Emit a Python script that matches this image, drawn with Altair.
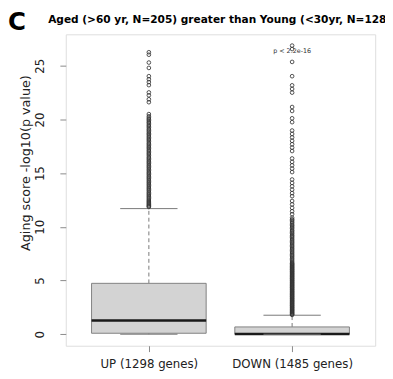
import altair as alt
import pandas as pd

# ---- data ----
categories = ["UP (1298 genes)", "DOWN (1485 genes)"]
lower_whisker = [0.0, 0.0]
q1 = [0.09, 0.0]
median = [1.28, 0.03]
q3 = [4.74, 0.68]
upper_whisker = [11.70, 1.77]

up_outliers = [
    26.26, 26.03, 25.3, 24.8, 24.03, 23.75, 23.48, 23.2, 22.52, 22.25, 21.88, 21.61, 20.5,
    20.3, 20.15, 20.02, 19.9, 19.76, 19.65, 19.5, 19.38, 19.25, 19.1, 18.98, 18.85, 18.7,
    18.6, 18.46, 18.33, 18.2, 18.08, 17.95, 17.8, 17.68, 17.55, 17.42, 17.3, 17.16, 17.04,
    16.9, 16.78, 16.65, 16.5, 16.38, 16.26, 16.12, 16.0, 15.88, 15.74, 15.62, 15.5, 15.36,
    15.24, 15.1, 14.98, 14.86, 14.72, 14.6, 14.48, 14.35, 14.22, 14.1, 13.97, 13.85, 13.72,
    13.6, 13.48, 13.36, 13.22, 13.1, 12.98, 12.86, 12.74, 12.62, 12.5, 12.4, 12.3, 12.2,
    12.1, 12.0, 11.92, 11.85,
]
down_outliers = [
    26.88, 26.56, 25.36, 24.03, 23.18, 22.84, 22.5, 21.16, 20.79, 20.11, 19.75,
    18.97, 18.65, 18.33, 18.01, 17.69, 17.38, 17.06, 16.37, 16.05, 15.73, 15.42, 15.1,
    14.41, 14.09, 13.78, 13.46, 13.14, 12.86, 12.41, 12.09, 11.77, 11.45, 11.18,
    10.85, 10.7, 10.6, 10.46, 10.35, 10.2, 10.1, 9.97, 9.85, 9.7, 9.6, 9.47, 9.36, 9.22,
    9.12, 9.0, 8.87, 8.76, 8.63, 8.52, 8.4, 8.27, 8.16, 8.03, 7.92, 7.8, 7.67, 7.56, 7.43,
    7.32, 7.2, 7.07, 6.96, 6.83, 6.72,
    6.62, 6.56, 6.48, 6.42, 6.34, 6.27, 6.21, 6.13, 6.06, 6.0, 5.92, 5.85, 5.79, 5.71,
    5.64, 5.58, 5.5, 5.43, 5.37, 5.29, 5.22, 5.16, 5.08, 5.01, 4.95, 4.87, 4.8, 4.74,
    4.66, 4.59, 4.53, 4.45, 4.38, 4.32, 4.24, 4.17, 4.11, 4.03, 3.96, 3.9, 3.82, 3.75,
    3.69, 3.61, 3.54, 3.48, 3.4, 3.33, 3.27, 3.19, 3.12, 3.06, 2.98, 2.91, 2.85, 2.77,
    2.7, 2.64, 2.56, 2.49, 2.43, 2.35, 2.28, 2.22, 2.14, 2.07, 2.01, 1.93, 1.86, 1.8,
]
p_label = "p < 2.2e-16"
p_label_value = 26.4
panel_letter = "C"
title_text = "Aged (>60 yr, N=205) greater than Young (<30yr, N=128)"
y_title = "Aging score -log10(p value)"
y_ticks = [0, 5, 10, 15, 20, 25]

# ---- tables built from the arrays ----
pos = [i + 1 for i in range(len(categories))]
box_df = pd.DataFrame({
    "cat": categories, "pos": pos, "lo": lower_whisker, "q1": q1,
    "med": median, "q3": q3, "hi": upper_whisker,
})
box_df["left"] = box_df["pos"] - 0.4
box_df["right"] = box_df["pos"] + 0.4
box_df["capl"] = box_df["pos"] - 0.2
box_df["capr"] = box_df["pos"] + 0.2

out_df = pd.concat([
    pd.DataFrame({"pos": pos[0], "value": up_outliers}),
    pd.DataFrame({"pos": pos[1], "value": down_outliers}),
], ignore_index=True)

p_df = pd.DataFrame({"pos": [pos[1]], "value": [p_label_value], "t": [p_label]})
letter_df = pd.DataFrame({"t": [panel_letter]})
title_df = pd.DataFrame({"t": [title_text]})

FONT = "DejaVu Sans"
label_expr = " : ".join(
    [f"datum.value == {p} ? '{c}'" for p, c in zip(pos, categories)] + ["''"]
)

xscale = alt.Scale(domain=[0.42, 2.58], nice=False, zero=False)
yscale = alt.Scale(domain=[-1.07, 27.93], nice=False, zero=False)

x_axis = alt.Axis(
    values=pos, labelExpr=label_expr, title=None, grid=False, domain=False,
    tickSize=6, tickColor="#888888", labelPadding=7, labelBaseline="top",
    labelFont=FONT, labelFontSize=12, labelColor="#222222", labelAngle=0,
)
y_axis = alt.Axis(
    values=y_ticks, title=y_title, grid=False, domain=False,
    tickSize=6, tickColor="#888888", labelAngle=270, labelAlign="center",
    labelBaseline="middle", labelPadding=21, labelFont=FONT, labelFontSize=12,
    labelColor="#222222", titleFont=FONT, titleFontSize=13, titleFontWeight="normal",
    titleColor="#222222", titleAngle=270, titleAlign="center", titleBaseline="middle",
    titleX=-41, titleY=131,
)

base = alt.Chart(box_df)

whisk_up = base.mark_rule(color="#777777", strokeWidth=1, strokeDash=[4, 3]).encode(
    x=alt.X("pos:Q", scale=xscale, axis=x_axis),
    y=alt.Y("q3:Q", scale=yscale, axis=y_axis),
    y2="hi:Q",
)
whisk_lo = base.mark_rule(color="#777777", strokeWidth=1, strokeDash=[4, 3]).encode(
    x=alt.X("pos:Q", scale=xscale, axis=x_axis),
    y=alt.Y("lo:Q", scale=yscale, axis=y_axis),
    y2="q1:Q",
)
cap_hi = base.mark_rule(color="#777777", strokeWidth=1).encode(
    x=alt.X("capl:Q", scale=xscale, axis=x_axis), x2="capr:Q",
    y=alt.Y("hi:Q", scale=yscale, axis=y_axis),
)
cap_lo = base.mark_rule(color="#777777", strokeWidth=1).encode(
    x=alt.X("capl:Q", scale=xscale, axis=x_axis), x2="capr:Q",
    y=alt.Y("lo:Q", scale=yscale, axis=y_axis),
)
boxes = base.mark_rect(fill="#d3d3d3", stroke="#808080", strokeWidth=1).encode(
    x=alt.X("left:Q", scale=xscale, axis=x_axis), x2="right:Q",
    y=alt.Y("q1:Q", scale=yscale, axis=y_axis), y2="q3:Q",
)
medians = base.mark_rule(color="#1a1a1a", strokeWidth=2.6).encode(
    x=alt.X("left:Q", scale=xscale, axis=x_axis), x2="right:Q",
    y=alt.Y("med:Q", scale=yscale, axis=y_axis),
)
points = alt.Chart(out_df).mark_point(
    shape="circle", filled=False, size=14, stroke="#333333", strokeWidth=0.85, opacity=1
).encode(
    x=alt.X("pos:Q", scale=xscale, axis=x_axis),
    y=alt.Y("value:Q", scale=yscale, axis=y_axis),
)
ptext = alt.Chart(p_df).mark_text(
    font=FONT, fontSize=6.5, color="#333333", align="center", baseline="middle"
).encode(
    x=alt.X("pos:Q", scale=xscale, axis=x_axis),
    y=alt.Y("value:Q", scale=yscale, axis=y_axis),
    text="t:N",
)
letter = alt.Chart(letter_df).mark_text(
    font=FONT, fontSize=25, fontWeight="bold", color="#000000", align="left",
    baseline="alphabetic",
).encode(x=alt.value(-59), y=alt.value(-4.5), text="t:N")
title = alt.Chart(title_df).mark_text(
    font=FONT, fontSize=10.8, fontWeight="bold", color="#000000", align="left",
    baseline="alphabetic",
).encode(x=alt.value(-18), y=alt.value(-12), text="t:N")

chart = alt.layer(
    whisk_up, whisk_lo, boxes, medians, cap_hi, cap_lo, points, ptext, letter, title
).properties(
    width=316, height=318,
    padding={"left": 59, "top": 23, "right": 10, "bottom": 25},
    autosize=alt.AutoSizeParams(type="none"),
).configure_view(stroke="#999999", strokeWidth=1.3).configure(background="white")

chart.save("out.html", embed_options={"renderer": "svg", "actions": False})
